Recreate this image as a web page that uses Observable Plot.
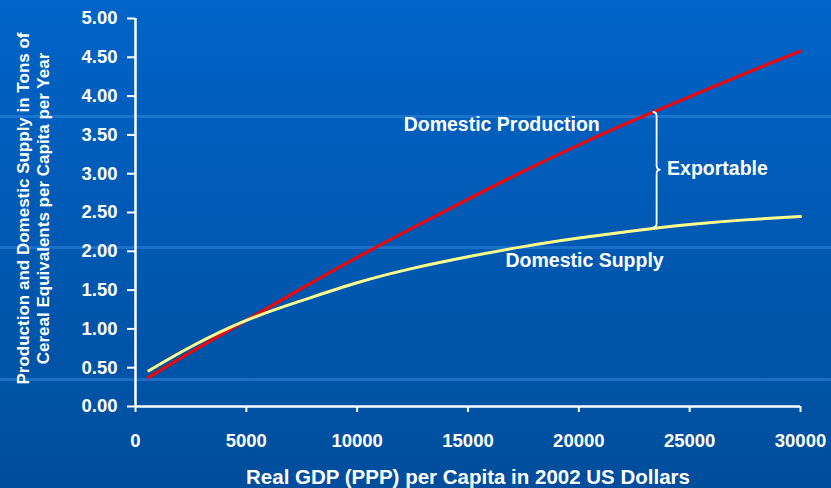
<!DOCTYPE html>
<html>
<head>
<meta charset="utf-8">
<script src="https://cdn.jsdelivr.net/npm/d3@7"></script>
<script src="https://cdn.jsdelivr.net/npm/@observablehq/plot@0.6"></script>
<style>
  html, body { margin: 0; padding: 0; }
  #chart {
    width: 831px; height: 488px; overflow: hidden;
    background:
      linear-gradient(to bottom,
        transparent 115px, rgba(60,140,230,0.45) 115px, rgba(60,140,230,0.45) 118px, transparent 118px,
        transparent 246px, rgba(60,140,230,0.45) 246px, rgba(60,140,230,0.45) 249px, transparent 249px,
        transparent 378px, rgba(60,140,230,0.45) 378px, rgba(60,140,230,0.45) 381px, transparent 381px),
      linear-gradient(to bottom, #0064c8, #004e9c);
  }
</style>
</head>
<body>
<div id="chart"></div>
<script>
// ---- data ----
const gdp        = [600, 2500, 5000, 7500, 10000, 12500, 15000, 17500, 20000, 22500, 25000, 27500, 30000];
const production = [0.375, 0.70, 1.11, 1.52, 1.92, 2.30, 2.67, 3.03, 3.37, 3.69, 3.99, 4.29, 4.58];
const supply     = [0.46, 0.77, 1.11, 1.365, 1.595, 1.78, 1.93, 2.06, 2.17, 2.265, 2.345, 2.405, 2.45];

const xTicks = [0, 5000, 10000, 15000, 20000, 25000, 30000];
const yTicks = [0, 0.5, 1, 1.5, 2, 2.5, 3, 3.5, 4, 4.5, 5];

const labelNames = ["Domestic Production", "Domestic Supply"];
const labelX     = [16520, 20260];
const labelY     = [3.63, 1.88];

const exportLabel = "Exportable";
const exportX = 23980;
const exportY = 3.06;

const braceX = 23350;
const braceTop = 3.79;
const braceBottom = 2.30;

const xTitle = "Real GDP (PPP) per Capita in 2002 US Dollars";
const yTitle = "Production and Domestic Supply in Tons of\nCereal Equivalents per Capita per Year";

// ---- build ----
const prodData = gdp.map((g, i) => ({gdp: g, v: production[i]}));
const supData = gdp.map((g, i) => ({gdp: g, v: supply[i]}));
const labels = labelNames.map((t, i) => ({t, x: labelX[i], y: labelY[i]}));

function braceMark(...args) {
  const scales = args.find(a => a && typeof a.x === "function" && typeof a.y === "function");
  const x0 = scales.x(braceX);
  const ya = scales.y(braceTop);
  const yb = scales.y(braceBottom);
  const ym = (ya + yb) / 2;
  const w = 4;
  const d = `M${x0},${ya} Q${x0 + w},${ya} ${x0 + w},${ya + w} L${x0 + w},${ym - w} Q${x0 + w},${ym} ${x0 + 2 * w},${ym} Q${x0 + w},${ym} ${x0 + w},${ym + w} L${x0 + w},${yb - w} Q${x0 + w},${yb} ${x0},${yb}`;
  const path = document.createElementNS("http://www.w3.org/2000/svg", "path");
  path.setAttribute("d", d);
  path.setAttribute("fill", "none");
  path.setAttribute("stroke", "white");
  path.setAttribute("stroke-width", "1.8");
  return path;
}

const chart = Plot.plot({
  width: 831,
  height: 488,
  marginLeft: 135,
  marginRight: 31,
  marginTop: 18,
  marginBottom: 82,
  style: {
    background: "transparent",
    color: "white",
    fontFamily: "'Liberation Sans', Arial, sans-serif",
    fontWeight: "bold",
    fontSize: "18.5px",
    overflow: "visible"
  },
  x: {domain: [0, 30000]},
  y: {domain: [0, 5]},
  marks: [
    Plot.axisX({ticks: xTicks, tickSize: 6, tickPadding: 21, tickFormat: d => String(d), label: null, strokeWidth: 2, strokeOpacity: 1, fontSize: 18.5}),
    Plot.axisY({ticks: yTicks, tickSize: 8, tickPadding: 10, tickFormat: d => d.toFixed(2), label: null, strokeWidth: 2, strokeOpacity: 1, fontSize: 18.5}),
    Plot.ruleY([0], {stroke: "white", strokeWidth: 2.5}),
    Plot.ruleX([0], {stroke: "white", strokeWidth: 2.5}),
    Plot.line(prodData, {x: "gdp", y: "v", stroke: "#ff0000", strokeWidth: 3, curve: "natural"}),
    Plot.line(supData, {x: "gdp", y: "v", stroke: "#ffff8c", strokeWidth: 3, curve: "natural"}),
    Plot.text(labels, {x: "x", y: "y", text: "t", fill: "white", fontSize: 19.5, fontWeight: "bold", lineAnchor: "middle"}),
    Plot.text([exportLabel], {x: () => exportX, y: () => exportY, text: d => d, fill: "white", fontSize: 19.5, fontWeight: "bold", textAnchor: "start", lineAnchor: "middle"}),
    braceMark,
    Plot.text([xTitle], {frameAnchor: "bottom", dy: 77, lineAnchor: "bottom", text: d => d, fill: "white", fontSize: 20.5, fontWeight: "bold"}),
    Plot.text([yTitle], {frameAnchor: "left", dx: -103, dy: -4, rotate: -90, textAnchor: "middle", lineAnchor: "middle", lineHeight: 1.18, text: d => d, fill: "white", fontSize: 17, fontWeight: "bold"})
  ]
});

document.getElementById("chart").appendChild(chart);
</script>
</body>
</html>
